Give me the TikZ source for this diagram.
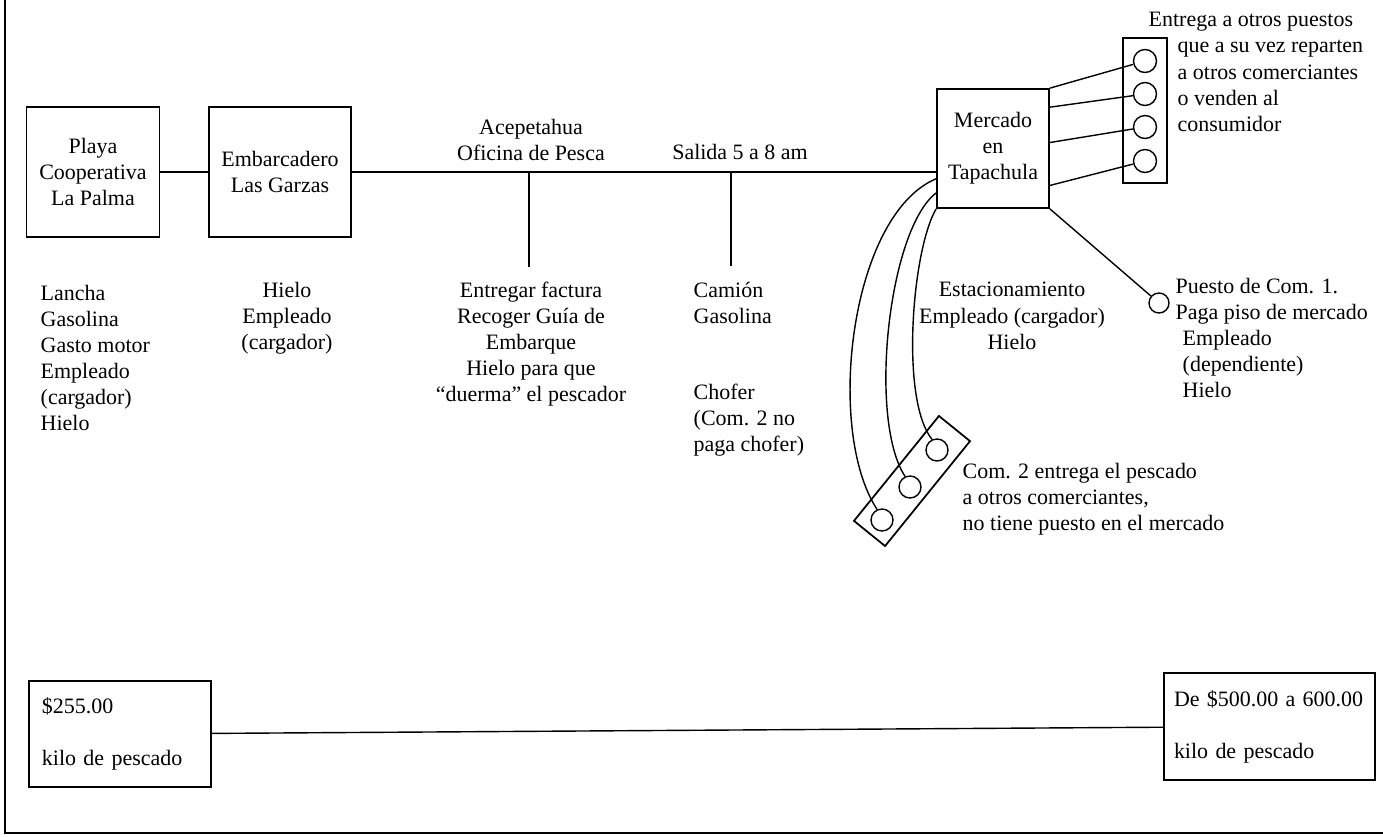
\documentclass[tikz,border=0pt]{standalone}
\usepackage{fontspec}
\setmainfont{Liberation Serif}
\usetikzlibrary{shapes,arrows,positioning,calc}

\begin{document}
\begin{tikzpicture}[kasten/.style={draw, line width=1pt, align=center, inner sep=2pt},
			kreis/.style={draw, circle, line width=0.8pt, minimum size=0.46cm, inner sep=0pt},
			txt/.style={align=center, inner sep=0pt},
			txtl/.style={align=left, inner sep=0pt, anchor=west},
			x=0.2mm, y=-0.2mm, line width=0.8pt,
			font=\fontsize{12.5}{14.9}\selectfont]
			% Rahmen
			\useasboundingbox (0,0) rectangle (1383,836);
			\draw (5,0) -- (5,833) -- (1383,833);
			% Stationen
			\node[kasten, minimum width=2.66cm, minimum height=2.6cm] (playa) at (93,172) {Playa\\Cooperativa\\La Palma};
			\node[kasten, minimum width=2.84cm, minimum height=2.6cm] (emb) at (280,172) {Embarcadero\\Las Garzas};
			\node[kasten, minimum width=2.24cm, minimum height=2.38cm] (merc) at (993,148.5) {Mercado\\en\\Tapachula};
			\node[draw, line width=1pt, minimum width=0.88cm, minimum height=2.9cm] (stand) at (1145,110.5) {};
			\foreach \i/\y in {1/61,2/94,3/127,4/161}
				\node[kreis] (p\i) at (1145,\y) {};
			\node[kreis, minimum size=0.4cm] (puesto) at (1159,303) {};
			\node[draw, line width=1pt, rotate=51, minimum width=2.7cm, minimum height=0.8cm] (com2) at (912,481) {};
			\node[kreis, minimum size=0.44cm] (k1) at (937,450) {};
			\node[kreis, minimum size=0.44cm] (k2) at (910,487) {};
			\node[kreis, minimum size=0.44cm] (k3) at (882,520) {};
			% Verbindungen
			\draw (playa) -- (emb);
			\draw (emb.east) -- (emb.east -| merc.west);
			\coordinate (ofi) at (529,172);
			\coordinate (ofiu) at (529,267);
			\coordinate (sal) at (731,172);
			\coordinate (salu) at (731,266);
			\draw (ofi) -- (ofiu);
			\draw (sal) -- (salu);
			\draw (merc.north east) -- (p1);
			\draw (merc.36) -- (p2);
			\draw (merc.6) -- (p3);
			\draw (merc.-33) -- (p4);
			\draw (merc.south east) -- (puesto);
			\draw (merc.208) .. controls (850,215) and (825,430) .. (k3.115);
			\draw (merc.218) .. controls (888,230) and (868,420) .. (k2.115);
			\draw (merc.south west) .. controls (912,250) and (900,400) .. (k1.115);
			% Beschriftung
			\node[txt] (acep) at (531,140) {Acepetahua\\Oficina de Pesca};
			\node[txt] (salida) at (740,152) {Salida 5 a 8 am};
			\node[txtl] (gastos1) at (40,358) {Lancha\\Gasolina\\Gasto motor\\Empleado\\(cargador)\\Hielo};
			\node[txt] (gastos2) at (287,318) {Hielo\\Empleado\\(cargador)};
			\node[txt] (gastos3) at (531,344) {Entregar factura\\Recoger Guía de\\Embarque\\Hielo para que\\``duerma'' el pescador};
			\node[txtl] (gastos4) at (693,303) {Camión\\Gasolina};
			\node[txtl] (chofer) at (693,420) {Chofer\\(Com. 2 no\\paga chofer)};
			\node[txt] (estac) at (1012,316) {Estacionamiento\\Empleado (cargador)\\Hielo};
			\node[txtl] (puestotxt) at (1175,338) {Puesto de Com. 1.\\Paga piso de mercado\\\hspace*{4pt}Empleado\\\hspace*{4pt}(dependiente)\\\hspace*{4pt}Hielo};
			\node[txtl] (entrega) at (1148,72) {Entrega a otros puestos\\\hspace*{16.5pt}que a su vez reparten\\\hspace*{16.5pt}a otros comerciantes\\\hspace*{16.5pt}o venden al\\\hspace*{16.5pt}consumidor};
			\node[txtl] (com2txt) at (962,499) {Com. 2 entrega el pescado\\a otros comerciantes,\\no tiene puesto en el mercado};
			% Preise
			\node[kasten, minimum height=2.12cm, text width=3.12cm, inner xsep=0.26cm, align=left] (preis1) at (120,734) {\$255.00\\[14.7pt]kilo de pescado};
			\node[kasten, minimum height=2.14cm, text width=3.82cm, inner xsep=0.2cm, align=left] (preis2) at (1269.5,726.5) {De \$500.00 a 600.00\\[14.7pt]kilo de pescado};
			\draw (preis1) -- (preis2);
		\end{tikzpicture}
\end{document}
